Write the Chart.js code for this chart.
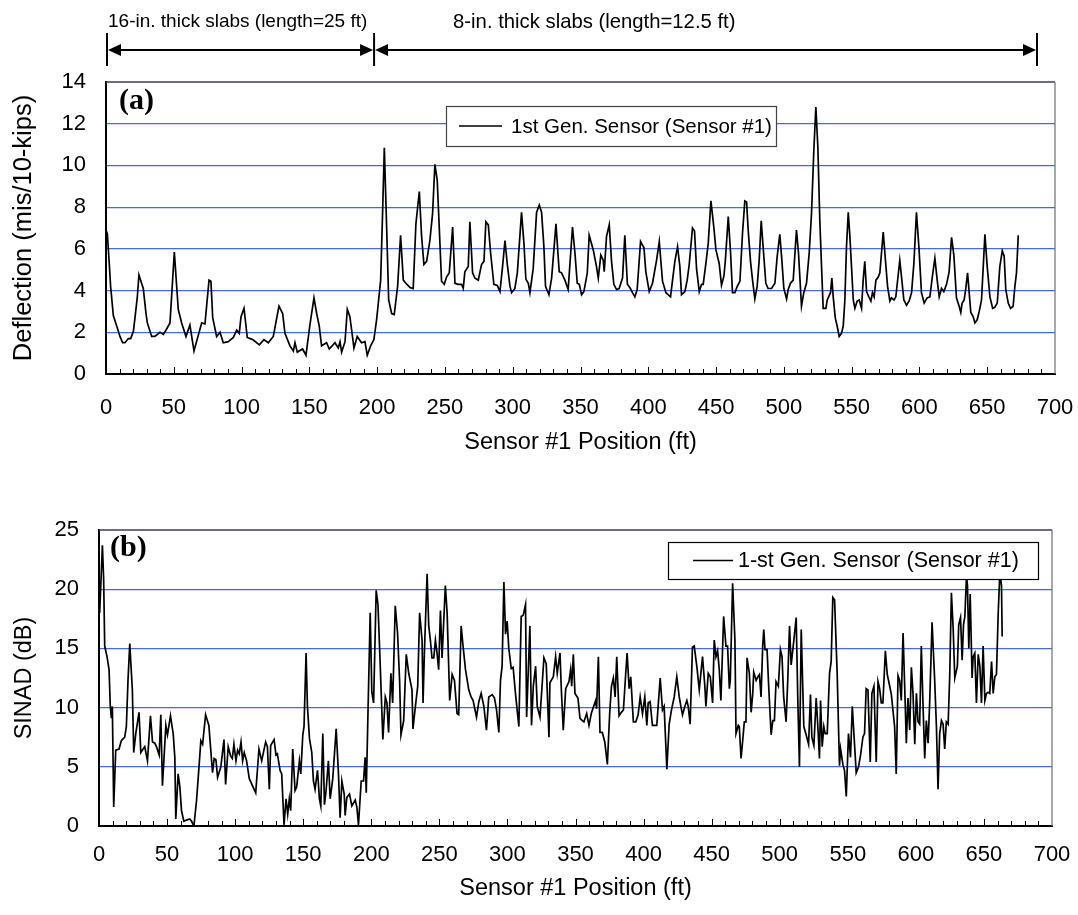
<!DOCTYPE html>
<html>
<head>
<meta charset="utf-8">
<script src="https://cdn.jsdelivr.net/npm/chart.js@4.4.0/dist/chart.umd.min.js"></script>
<style>
  html, body { margin: 0; padding: 0; background: #fff; }
  #wrap { position: relative; width: 1078px; height: 915px; }
  canvas { position: absolute; left: 0; }
  #deflChart { top: 0; }
  #sinadChart { top: 460px; }
</style>
</head>
<body>
<div id="wrap">
  <canvas id="deflChart" width="1078" height="480"></canvas>
  <canvas id="sinadChart" width="1078" height="455"></canvas>
</div>
<script>
// (a) deflection, sensor position in ft / value in mils per 10 kips
const positionsA = [
  0, 1.0, 2.5, 3.4, 5.4, 7.9, 10.3, 12.3, 14.0, 16.5, 18.2, 20.2, 21.4, 23.1, 24.3, 27.5, 29.5, 30.5, 33.7, 36.1,
  39.8, 42.3, 44.2, 47.2, 50.4, 53.3, 55.8, 59.0, 61.9, 64.9, 70.6, 73.0, 76.0, 77.4, 78.7, 81.6, 84.1, 86.5, 90.2, 93.9,
  96.4, 98.3, 99.6, 101.8, 104.2, 108.2, 113.1, 116.5, 119.7, 123.4, 127.6, 130.3, 132.0, 135.7, 138.2, 139.4, 141.1, 145.0, 147.5, 150.4,
  153.4, 155.4, 157.3, 159.0, 162.7, 164.7, 168.9, 171.3, 172.6, 173.8, 176.3, 178.0, 179.9, 182.9, 185.3, 188.5, 191.0, 192.7, 195.2, 197.6,
  199.6, 202.6, 204.0, 205.3, 207.0, 208.5, 210.7, 212.6, 215.1, 217.3, 219.3, 221.2, 224.2, 226.6, 228.6, 231.1, 232.8, 234.5, 236.5, 238.9,
  240.9, 242.6, 244.3, 245.8, 247.5, 249.5, 251.2, 253.2, 255.7, 257.4, 259.8, 262.3, 263.5, 264.7, 267.2, 268.4, 270.4, 272.1, 274.6, 277.0,
  278.8, 280.2, 282.0, 283.7, 286.1, 288.6, 290.6, 292.5, 294.3, 296.0, 298.0, 299.2, 301.6, 303.4, 306.5, 308.3, 309.7, 311.5, 312.7, 315.1,
  317.6, 319.6, 321.3, 323.0, 324.2, 326.7, 328.7, 331.9, 334.3, 336.0, 338.5, 340.9, 344.1, 345.9, 347.6, 349.1, 350.8, 352.5, 355.0, 356.4,
  359.4, 361.8, 363.1, 365.0, 366.8, 367.5, 369.2, 371.2, 372.9, 374.6, 376.6, 378.5, 381.0, 382.7, 384.6, 386.8, 388.3, 390.1, 391.8, 394.3,
  396.8, 398.2, 400.7, 403.1, 406.1, 408.1, 410.5, 413.0, 416.4, 417.9, 419.6, 421.6, 423.3, 424.5, 427.0, 428.7, 430.2, 432.6, 434.1, 435.6,
  437.6, 439.3, 440.5, 442.5, 444.2, 446.2, 448.4, 449.9, 452.3, 454.0, 455.8, 456.8, 459.0, 460.7, 462.1, 463.9, 465.6, 467.6, 469.5, 471.2,
  472.5, 473.7, 475.4, 476.9, 478.6, 480.3, 481.8, 483.3, 484.7, 486.7, 488.4, 490.9, 493.4, 495.1, 497.0, 498.3, 500.0, 502.0, 503.2, 504.9,
  506.9, 509.3, 510.8, 513.0, 514.7, 516.7, 518.7, 520.4, 522.1, 523.6, 525.1, 526.5, 527.8, 529.0, 531.0, 532.0, 534.4, 535.4, 536.4, 537.9,
  539.3, 540.8, 542.5, 543.8, 545.0, 546.2, 547.5, 548.7, 549.9, 551.2, 552.4, 554.1, 555.6, 557.3, 558.5, 559.7, 561.0, 562.7, 564.2, 565.4,
  566.6, 567.9, 569.6, 570.8, 573.3, 574.5, 576.5, 578.2, 579.4, 581.2, 582.6, 585.5, 586.8, 588.5, 590.5, 592.4, 594.2, 595.9, 597.8, 599.6,
  601.5, 603.5, 605.7, 607.7, 609.5, 611.4, 613.1, 614.6, 616.3, 618.0, 620.0, 621.9, 623.7, 625.4, 627.3, 629.3, 630.5, 631.5, 633.0, 634.2,
  635.5, 636.7, 637.9, 639.6, 640.9, 642.6, 644.1, 645.8, 648.3, 650.0, 652.0, 654.0, 655.6, 657.4, 659.3, 661.1, 662.5, 663.7, 665.5, 667.2,
  669.1, 670.4, 671.6, 672.9
];
const deflection = [
  6.9, 6.7, 5.2, 4.2, 2.8, 2.3, 1.8, 1.5, 1.5, 1.7, 1.7, 2.05, 2.7, 3.7, 4.75, 4.1, 2.9, 2.45, 1.8, 1.8,
  2.0, 1.9, 2.1, 2.45, 5.85, 3.1, 2.45, 1.8, 2.35, 1.1, 2.45, 2.4, 4.5, 4.45, 2.7, 1.8, 2.0, 1.5, 1.55, 1.75,
  2.1, 1.95, 2.75, 3.15, 1.75, 1.65, 1.4, 1.65, 1.5, 1.8, 3.25, 2.9, 1.95, 1.35, 1.1, 1.5, 1.05, 1.2, 0.9, 2.35,
  3.65, 2.9, 2.3, 1.35, 1.5, 1.2, 1.5, 1.25, 1.55, 1.05, 1.55, 3.1, 2.75, 1.25, 1.8, 1.5, 1.55, 0.9, 1.35, 1.65,
  2.6, 4.5, 7.7, 10.85, 7.05, 3.55, 2.9, 2.85, 4.2, 6.65, 4.5, 4.35, 4.15, 4.1, 7.2, 8.75, 6.6, 5.25, 5.4, 6.4,
  7.7, 10.05, 9.3, 7.05, 4.45, 4.3, 4.65, 4.85, 7.05, 4.35, 4.3, 4.3, 4.1, 4.9, 5.15, 7.3, 4.85, 4.6, 4.5, 5.25,
  5.4, 7.3, 7.15, 5.8, 4.3, 4.25, 3.95, 5.15, 6.4, 5.25, 4.2, 3.9, 4.1, 4.85, 7.75, 6.25, 4.55, 4.35, 3.9, 5.05,
  7.75, 8.1, 7.75, 6.1, 4.2, 3.8, 4.6, 7.2, 4.9, 4.85, 4.5, 4.05, 7.05, 5.8, 4.35, 4.3, 3.8, 3.95, 4.85, 6.65,
  5.95, 5.15, 4.6, 5.7, 5.45, 4.9, 6.6, 7.15, 5.4, 4.3, 4.05, 4.1, 4.6, 6.65, 4.3, 4.1, 3.9, 3.7, 4.05, 6.35,
  6.05, 4.9, 3.95, 4.35, 5.45, 6.35, 4.45, 3.9, 3.7, 4.5, 5.4, 6.1, 5.15, 3.8, 3.95, 4.5, 5.25, 7.0, 6.85, 5.05,
  3.95, 4.3, 4.3, 5.3, 6.25, 8.3, 7.0, 5.95, 5.3, 4.25, 4.7, 5.4, 7.55, 5.8, 3.9, 3.9, 4.2, 4.45, 6.75, 8.3,
  8.25, 6.9, 5.4, 4.5, 3.6, 4.2, 5.45, 7.35, 6.1, 4.35, 4.1, 4.1, 4.35, 5.65, 6.7, 5.65, 4.1, 3.6, 4.05, 4.35,
  4.5, 6.9, 5.8, 3.25, 3.9, 4.35, 5.8, 7.7, 10.7, 12.8, 10.85, 7.4, 5.15, 3.15, 3.15, 3.55, 3.9, 4.6, 3.7, 2.7,
  2.3, 1.8, 1.95, 2.3, 3.55, 6.1, 7.75, 6.6, 5.15, 3.55, 3.15, 3.5, 3.55, 3.15, 4.5, 5.4, 3.95, 3.7, 3.5, 3.9,
  3.7, 4.5, 4.65, 4.85, 6.8, 5.8, 4.2, 3.5, 3.65, 3.55, 3.7, 5.45, 4.65, 3.55, 3.3, 3.5, 3.9, 5.3, 7.75, 6.1,
  3.9, 3.4, 3.65, 3.7, 4.65, 5.55, 4.5, 3.7, 4.1, 3.95, 4.3, 4.9, 6.55, 5.7, 3.65, 3.25, 2.95, 3.4, 3.55, 4.1,
  4.85, 3.9, 2.95, 2.75, 2.45, 2.6, 3.0, 3.55, 6.7, 5.15, 3.7, 3.15, 3.2, 3.4, 5.15, 5.9, 5.65, 4.05, 3.4, 3.15,
  3.25, 4.2, 4.85, 6.65
];

// (b) SINAD in dB
const positionsB = [
  0.5, 2.5, 3.4, 4.2, 5.9, 7.4, 8.3, 9.1, 9.8, 10.8, 12.3, 14.7, 16.4, 18.9, 20.1, 21.3, 22.6, 24.5, 25.5, 27.0,
  29.4, 30.7, 32.4, 33.6, 35.6, 37.8, 39.3, 41.0, 42.2, 44.2, 45.4, 46.6, 49.1, 50.3, 52.5, 54.5, 55.7, 56.4, 58.1, 59.4,
  60.6, 62.3, 64.3, 66.7, 68.0, 69.7, 71.6, 73.6, 74.8, 76.1, 78.3, 80.7, 81.9, 83.4, 84.6, 85.9, 87.1, 89.5, 91.8, 93.0,
  94.9, 96.7, 97.9, 99.1, 100.6, 101.8, 103.0, 104.3, 105.5, 106.7, 108.4, 110.4, 115.1, 117.5, 119.5, 122.4, 123.7, 125.1, 126.1, 128.6,
  130.0, 131.0, 133.0, 134.2, 135.9, 137.4, 138.6, 139.8, 140.8, 142.3, 144.0, 145.2, 147.2, 148.2, 149.7, 150.6, 152.1, 153.1, 154.6, 156.3,
  157.5, 158.7, 160.5, 161.9, 162.9, 164.4, 165.6, 166.8, 168.5, 169.8, 171.7, 174.2, 175.9, 177.1, 178.4, 180.1, 180.8, 182.0, 184.0, 185.7,
  188.2, 189.4, 190.6, 192.6, 194.3, 195.5, 196.3, 197.3, 199.2, 200.4, 201.7, 203.6, 204.9, 206.6, 208.5, 210.3, 211.5, 212.7, 214.4, 215.7,
  217.6, 219.3, 220.8, 221.8, 223.8, 225.7, 227.5, 229.9, 230.6, 232.4, 234.1, 235.5, 237.3, 238.0, 239.0, 241.0, 242.2, 243.4, 244.6, 245.9,
  247.1, 248.3, 249.5, 250.8, 252.0, 254.4, 255.7, 257.6, 259.4, 261.1, 263.0, 264.2, 266.0, 267.4, 269.2, 271.6, 273.3, 274.8, 277.3, 279.0,
  280.7, 282.7, 284.6, 286.3, 288.8, 290.5, 292.0, 293.7, 294.9, 296.1, 297.4, 298.6, 299.8, 301.0, 302.8, 304.2, 305.9, 308.4, 310.1, 311.6,
  313.3, 314.1, 316.5, 317.7, 319.0, 320.7, 321.9, 323.9, 325.6, 326.8, 328.5, 330.5, 331.2, 333.7, 335.4, 336.6, 338.6, 339.6, 341.0, 342.8,
  345.2, 346.4, 347.2, 348.4, 349.6, 351.8, 353.3, 355.0, 356.2, 358.2, 359.9, 361.6, 363.6, 364.8, 365.5, 366.8, 368.0, 369.7, 371.5, 373.4,
  375.1, 376.4, 377.8, 379.1, 380.3, 382.0, 383.7, 385.2, 386.9, 387.9, 389.4, 390.6, 392.5, 394.3, 396.0, 397.5, 399.2, 400.9, 402.4, 403.4,
  404.8, 406.5, 409.7, 412.2, 413.9, 415.1, 417.1, 418.8, 420.5, 422.5, 424.4, 426.2, 427.4, 428.6, 430.3, 431.8, 432.8, 434.2, 435.9, 437.2,
  439.1, 440.9, 443.3, 445.0, 445.8, 447.5, 449.0, 450.7, 451.9, 453.2, 454.4, 455.6, 456.8, 458.8, 460.5, 461.7, 463.0, 463.7, 465.4, 467.1,
  467.9, 469.6, 470.3, 471.6, 472.8, 474.0, 475.2, 476.0, 477.7, 479.0, 480.2, 480.9, 482.7, 483.9, 485.1, 486.3, 487.5, 488.3, 489.2, 490.7,
  491.9, 493.7, 494.9, 496.1, 497.3, 499.0, 500.5, 501.7, 502.9, 504.7, 505.9, 507.2, 508.4, 510.4, 512.1, 513.3, 514.5, 515.8, 517.7, 519.4,
  521.2, 522.6, 523.6, 525.1, 526.8, 528.0, 529.2, 530.0, 531.2, 532.4, 533.4, 534.9, 536.6, 537.8, 539.0, 540.3, 542.2, 543.9, 544.7, 546.4,
  547.6, 548.9, 550.5, 552.0, 553.3, 554.5, 556.2, 557.9, 559.4, 561.1, 562.3, 563.5, 564.8, 566.5, 567.7, 569.2, 570.9, 572.2, 573.4, 574.6,
  575.8, 577.6, 579.0, 580.8, 582.0, 584.4, 585.6, 586.9, 588.1, 589.3, 590.6, 591.8, 593.0, 594.2, 595.5, 596.7, 597.9, 599.2, 600.4, 601.6,
  602.8, 604.0, 605.3, 606.5, 607.7, 609.0, 610.2, 611.9, 613.8, 615.1, 616.3, 617.5, 618.8, 620.0, 621.2, 622.4, 623.7, 624.9, 626.1, 627.4,
  628.6, 630.5, 631.5, 632.8, 634.0, 635.0, 636.0, 637.2, 637.9, 638.9, 639.9, 641.3, 642.1, 643.3, 644.5, 645.8, 647.0, 648.2, 649.4, 650.7,
  651.9, 653.1, 654.3, 655.6, 656.8, 658.0, 659.2, 660.5, 661.7, 662.9, 663.4
];
const sinad = [
  18.0, 23.7, 20.9, 15.2, 14.3, 13.2, 10.1, 9.1, 10.1, 1.6, 6.4, 6.5, 7.2, 7.5, 8.4, 12.3, 15.4, 11.5, 6.2, 7.8,
  9.6, 6.2, 6.5, 6.7, 5.5, 9.3, 7.1, 7.0, 6.7, 6.0, 9.4, 3.4, 8.5, 7.7, 9.3, 7.8, 5.8, 0.6, 4.4, 3.3,
  1.3, 0.4, 0.5, 0.6, 0.4, 0.0, 2.1, 5.2, 7.2, 6.9, 9.4, 8.5, 6.7, 4.5, 5.7, 5.6, 4.1, 5.0, 7.3, 3.5,
  6.7, 5.9, 5.7, 6.9, 5.5, 6.4, 6.1, 7.1, 5.5, 6.2, 5.5, 4.0, 2.8, 6.5, 5.5, 7.1, 6.7, 3.1, 6.8, 7.3,
  6.0, 6.1, 4.7, 4.4, 0.1, 2.3, 1.0, 2.3, 1.3, 6.5, 3.0, 3.3, 5.5, 4.4, 7.7, 8.4, 14.6, 10.1, 7.4, 6.2,
  3.8, 3.1, 4.7, 2.3, 1.7, 7.8, 1.8, 3.0, 5.5, 2.3, 4.0, 8.2, 4.4, 0.7, 3.8, 2.7, 0.9, 2.4, 2.7, 1.7,
  2.2, 1.6, 0.1, 3.8, 3.8, 5.8, 2.8, 8.1, 18.0, 11.3, 10.4, 19.9, 18.7, 13.5, 7.3, 10.9, 10.4, 7.9, 12.9, 10.4,
  18.6, 16.3, 12.3, 7.7, 8.9, 14.5, 12.9, 11.5, 8.2, 10.1, 11.8, 18.0, 15.7, 10.4, 14.6, 21.3, 16.9, 15.7, 14.2, 14.2,
  15.7, 14.6, 13.2, 18.2, 14.2, 20.3, 18.0, 10.6, 12.8, 12.3, 9.5, 9.4, 16.9, 15.2, 13.2, 11.5, 10.9, 10.6, 9.2, 10.5,
  11.2, 10.1, 8.1, 10.9, 11.1, 10.8, 9.8, 7.9, 12.3, 13.5, 20.6, 16.2, 17.3, 15.0, 13.3, 13.4, 11.2, 8.4, 17.7, 17.8,
  18.7, 9.2, 16.9, 8.5, 11.8, 13.5, 10.1, 9.2, 12.1, 14.2, 13.7, 7.5, 12.1, 12.6, 14.3, 12.9, 14.6, 11.5, 8.1, 11.6,
  12.2, 13.2, 11.8, 14.5, 11.2, 10.8, 9.1, 8.9, 8.8, 9.5, 8.5, 9.5, 10.2, 10.6, 9.9, 14.3, 7.9, 7.9, 7.1, 5.2,
  9.5, 11.8, 12.5, 10.9, 14.3, 9.3, 9.6, 9.8, 12.9, 14.6, 11.6, 12.6, 8.8, 8.8, 9.4, 10.9, 9.5, 10.9, 8.5, 10.4,
  10.5, 8.5, 8.5, 12.5, 9.8, 10.1, 4.8, 8.6, 9.8, 10.9, 12.6, 10.9, 10.1, 9.4, 10.1, 10.6, 10.1, 8.6, 15.1, 15.2,
  13.5, 11.5, 14.3, 11.8, 10.1, 12.9, 12.6, 10.4, 15.7, 14.3, 14.8, 13.2, 10.6, 17.7, 15.2, 15.2, 11.6, 12.3, 20.5, 15.7,
  7.8, 8.5, 8.4, 5.7, 7.2, 8.8, 8.8, 14.2, 12.9, 9.6, 11.2, 13.0, 12.3, 12.6, 12.8, 10.9, 15.2, 16.6, 14.9, 14.9,
  11.8, 7.7, 8.9, 8.9, 12.2, 11.8, 14.9, 14.3, 10.9, 8.8, 12.3, 16.9, 13.6, 15.7, 17.6, 10.6, 5.0, 16.6, 8.4, 7.7,
  6.9, 11.1, 7.5, 6.8, 10.8, 8.4, 5.7, 10.6, 6.7, 8.4, 7.8, 7.8, 12.9, 13.9, 19.3, 19.1, 12.9, 5.1, 6.5, 5.2,
  4.7, 2.5, 7.8, 5.8, 10.1, 7.8, 4.5, 5.0, 6.0, 7.5, 7.8, 11.6, 11.5, 5.4, 11.2, 11.8, 5.4, 12.2, 11.6, 10.4,
  10.4, 14.8, 12.8, 11.8, 11.1, 8.4, 4.4, 12.7, 12.3, 10.6, 16.3, 11.8, 7.0, 10.8, 8.1, 13.4, 11.2, 6.9, 11.2, 8.8,
  8.6, 15.2, 10.1, 5.7, 8.9, 7.0, 10.6, 17.2, 12.4, 8.4, 3.1, 7.8, 8.9, 8.6, 6.5, 8.8, 8.6, 12.8, 19.7, 16.7,
  12.5, 13.5, 17.0, 17.6, 14.0, 17.0, 17.7, 21.2, 20.3, 15.0, 19.6, 12.5, 14.3, 14.6, 10.4, 14.5, 13.5, 10.4, 15.2, 10.6,
  11.2, 11.3, 11.2, 13.9, 11.2, 12.6, 12.8, 18.0, 21.4, 20.3, 16.0
];

// slab sections marked above chart (a), positions in ft
const slabZones = [
  { from: 0, to: 197, text: "16-in. thick slabs (length=25 ft)", textAt: 1.5, size: 19 },
  { from: 197, to: 686, text: "8-in. thick slabs (length=12.5 ft)", textAt: 256, size: 20.3 }
];

const gridBlue = "rgb(66,106,226)";
const sansFont = "'Liberation Sans', Arial, sans-serif";
Chart.defaults.font.family = sansFont;
Chart.defaults.color = "#000";

const toPoints = (xs, ys) => xs.map((x, i) => ({ x: x, y: ys[i] }));

// frame, inward minor ticks, panel letter and boxed legend
const framePlugin = {
  id: "frame",
  afterDraw(chart, args, opts) {
    const { ctx, chartArea: a } = chart;
    const xs = chart.scales.x;
    ctx.save();
    ctx.strokeStyle = "#3c4150";
    ctx.lineWidth = 1.5;
    ctx.beginPath();
    ctx.moveTo(a.left, a.top);
    ctx.lineTo(a.right, a.top);
    ctx.stroke();
    ctx.strokeStyle = "#6e6e6e";
    ctx.lineWidth = 1.2;
    ctx.beginPath();
    ctx.moveTo(a.right, a.top);
    ctx.lineTo(a.right, a.bottom);
    ctx.stroke();

    ctx.strokeStyle = "#000";
    ctx.lineWidth = 1;
    for (let v = 10; v < 700; v += 10) {
      const px = Math.round(xs.getPixelForValue(v)) + 0.5;
      const len = v % 50 === 0 ? 7 : 5;
      ctx.beginPath();
      ctx.moveTo(px, a.bottom);
      ctx.lineTo(px, a.bottom - len);
      ctx.stroke();
    }

    ctx.fillStyle = "#000";
    ctx.font = "bold 30px 'Liberation Serif', 'Times New Roman', serif";
    ctx.textBaseline = "alphabetic";
    ctx.textAlign = "left";
    ctx.fillText(opts.letter, a.left + opts.letterDx, a.top + opts.letterDy);

    const lg = opts.legend;
    const lx = a.left + lg.dx, ly = a.top + lg.dy;
    ctx.fillStyle = "#fff";
    ctx.fillRect(lx, ly, lg.w, lg.h);
    ctx.strokeStyle = lg.border;
    ctx.lineWidth = 1.2;
    ctx.strokeRect(lx + 0.5, ly + 0.5, lg.w, lg.h);
    ctx.strokeStyle = "#000";
    ctx.lineWidth = 1.7;
    ctx.beginPath();
    ctx.moveTo(lx + lg.lineFrom, ly + lg.h / 2);
    ctx.lineTo(lx + lg.lineTo, ly + lg.h / 2);
    ctx.stroke();
    ctx.fillStyle = "#000";
    ctx.font = lg.size + "px " + sansFont;
    ctx.textBaseline = "middle";
    ctx.fillText(chart.data.datasets[0].label, lx + lg.textAt, ly + lg.h / 2 + 1);
    ctx.restore();
  }
};

// arrows with section labels above chart (a)
const zonePlugin = {
  id: "zones",
  afterDraw(chart) {
    const { ctx } = chart;
    const xs = chart.scales.x;
    const yLine = 50;
    ctx.save();
    ctx.strokeStyle = "#000";
    ctx.fillStyle = "#000";
    ctx.lineWidth = 2;
    const bars = [slabZones[0].from].concat(slabZones.map(z => z.to));
    bars.forEach(v => {
      const px = xs.getPixelForValue(v) + 1;
      ctx.beginPath();
      ctx.moveTo(px, 33);
      ctx.lineTo(px, 66);
      ctx.stroke();
    });
    ctx.textBaseline = "middle";
    ctx.textAlign = "left";
    slabZones.forEach(z => {
      const x1 = xs.getPixelForValue(z.from) + 2;
      const x2 = xs.getPixelForValue(z.to);
      ctx.beginPath();
      ctx.moveTo(x1 + 6, yLine);
      ctx.lineTo(x2 - 6, yLine);
      ctx.stroke();
      ctx.beginPath();
      ctx.moveTo(x1, yLine);
      ctx.lineTo(x1 + 13, yLine - 6);
      ctx.lineTo(x1 + 13, yLine + 6);
      ctx.closePath();
      ctx.fill();
      ctx.beginPath();
      ctx.moveTo(x2, yLine);
      ctx.lineTo(x2 - 13, yLine - 6);
      ctx.lineTo(x2 - 13, yLine + 6);
      ctx.closePath();
      ctx.fill();
      ctx.font = z.size + "px " + sansFont;
      ctx.fillText(z.text, xs.getPixelForValue(z.textAt), 22);
    });
    ctx.restore();
  }
};

const makeOptions = (cfg) => ({
  responsive: false,
  animation: false,
  devicePixelRatio: 1,
  layout: { padding: cfg.padding },
  elements: { point: { radius: 0 }, line: { borderWidth: 1.7, tension: 0 } },
  plugins: {
    legend: { display: false },
    tooltip: { enabled: false },
    frame: cfg.frame
  },
  scales: {
    x: {
      type: "linear",
      min: 0,
      max: 700,
      afterFit: s => { s.height = cfg.xHeight; },
      ticks: { stepSize: 50, padding: 2, maxRotation: 0, autoSkip: false, font: { size: 22 } },
      grid: { display: false, drawTicks: true, tickLength: cfg.xTickGap },
      border: { display: true, color: "#000", width: 2 },
      title: { display: true, text: "Sensor #1 Position (ft)", font: { size: 23.5 }, padding: { top: 0, bottom: cfg.xTitlePad } }
    },
    y: {
      min: 0,
      max: cfg.yMax,
      afterFit: s => { s.width = cfg.yWidth; },
      ticks: { stepSize: cfg.yStep, padding: 20, font: { size: 22 } },
      grid: {
        drawTicks: false,
        lineWidth: 1.2,
        color: c => (c.tick.value === 0 || c.tick.value === cfg.yMax) ? "rgba(0,0,0,0)" : gridBlue
      },
      border: { display: true, color: "#000", width: 2 },
      title: { display: true, text: cfg.yTitle, font: { size: cfg.yTitleSize }, padding: { top: cfg.yTitlePad, bottom: 0 } }
    }
  }
});

new Chart(document.getElementById("deflChart"), {
  type: "line",
  data: {
    datasets: [{
      label: "1st Gen. Sensor (Sensor #1)",
      data: toPoints(positionsA, deflection),
      borderColor: "#000",
      fill: false
    }]
  },
  options: makeOptions({
    padding: { top: 82, right: 23, left: 0, bottom: 0 },
    xHeight: 106, xTickGap: 19, xTitlePad: 23,
    yWidth: 106, yMax: 14, yStep: 2,
    yTitle: "Deflection (mis/10-kips)", yTitleSize: 25.5, yTitlePad: 9,
    frame: {
      letter: "(a)", letterDx: 13, letterDy: 27,
      legend: { dx: 340, dy: 24, w: 330, h: 40, border: "#444", lineFrom: 13, lineTo: 56, textAt: 65, size: 20.5 }
    }
  }),
  plugins: [framePlugin, zonePlugin]
});

new Chart(document.getElementById("sinadChart"), {
  type: "line",
  data: {
    datasets: [{
      label: "1-st Gen. Sensor (Sensor #1)",
      data: toPoints(positionsB, sinad),
      borderColor: "#000",
      fill: false
    }]
  },
  options: makeOptions({
    padding: { top: 70, right: 26, left: 0, bottom: 0 },
    xHeight: 89, xTickGap: 14, xTitlePad: 12,
    yWidth: 99, yMax: 25, yStep: 5,
    yTitle: "SINAD (dB)", yTitleSize: 23.5, yTitlePad: 10,
    frame: {
      letter: "(b)", letterDx: 11, letterDy: 26,
      legend: { dx: 569, dy: 12, w: 370, h: 37, border: "#000", lineFrom: 25, lineTo: 65, textAt: 70, size: 21.5 }
    }
  }),
  plugins: [framePlugin]
});
</script>
</body>
</html>
